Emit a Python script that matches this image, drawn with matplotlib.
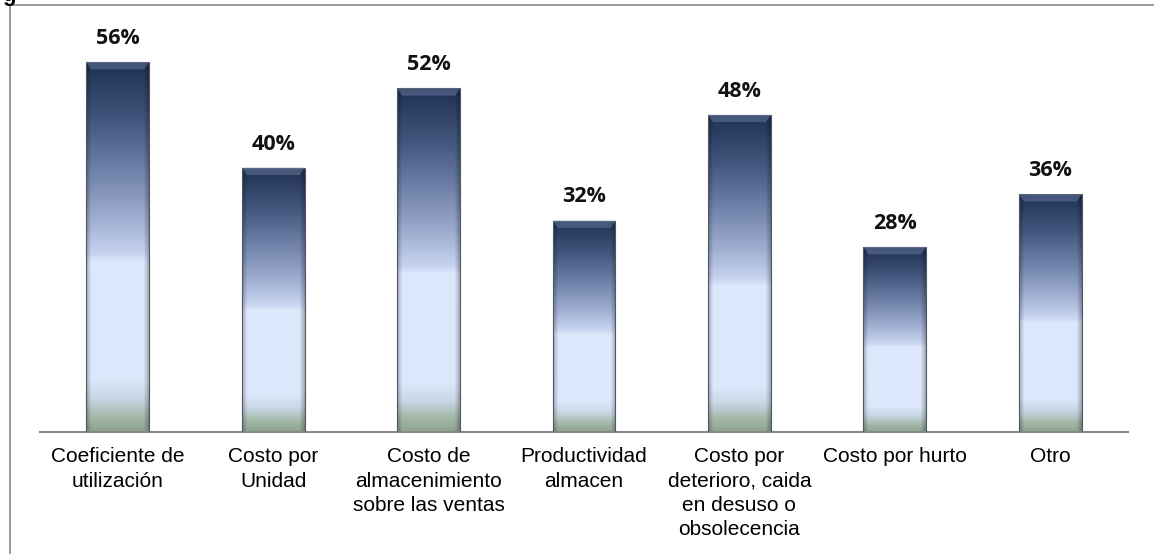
import numpy as np
import matplotlib.pyplot as plt
from matplotlib.colors import LinearSegmentedColormap
from matplotlib.patches import Rectangle, Polygon
from matplotlib.lines import Line2D

categories = [
    "Coeficiente de\nutilización",
    "Costo por\nUnidad",
    "Costo de\nalmacenimiento\nsobre las ventas",
    "Productividad\nalmacen",
    "Costo por\ndeterioro, caida\nen desuso o\nobsolecencia",
    "Costo por hurto",
    "Otro",
]
values = [56, 40, 52, 32, 48, 28, 36]
labels = ["56%", "40%", "52%", "32%", "48%", "28%", "36%"]

W, H = 1154, 554
fig = plt.figure(figsize=(W / 100, H / 100), dpi=100)
fig.patch.set_facecolor("white")

# plot area in pixel terms
x0, x1 = 40, 1128
y_base = 432
px_per_unit = 370 / 56.0
ymax = 60
ax = fig.add_axes([x0 / W, (H - y_base) / H, (x1 - x0) / W,
                   ymax * px_per_unit / H])
ax.set_xlim(0, len(values))
ax.set_ylim(0, ymax)
for s in ["left", "right", "top"]:
    ax.spines[s].set_visible(False)
ax.spines["bottom"].set_color("#8a8a8a")
ax.spines["bottom"].set_linewidth(1.5)
ax.set_yticks([])
ax.tick_params(axis="x", length=0, pad=11)
ax.set_xticks(np.arange(len(values)) + 0.5)
ax.set_xticklabels(categories, fontsize=15, family="Liberation Sans",
                   linespacing=1.36)
ax.patch.set_alpha(0)

# vertical colour ramp, bottom (0) to top (1)
cmap = LinearSegmentedColormap.from_list("barramp", [
    (0.00, "#8ea491"),
    (0.04, "#a3b8a8"),
    (0.09, "#c9d7e6"),
    (0.14, "#dce7fb"),
    (0.46, "#dde8fc"),
    (0.48, "#c8d5f1"),
    (0.58, "#9eadd0"),
    (0.70, "#7284ab"),
    (0.84, "#44577e"),
    (1.00, "#1e3052"),
])
grad = np.linspace(0, 1, 256).reshape(-1, 1)
xs = np.linspace(0, 1, 64)
edge_shade = 1 - 0.25 * np.clip(1 - np.minimum(xs, 1 - xs) / 0.08, 0, 1)

bw = 0.405
for i, v in enumerate(values):
    left = i + 0.5 - bw / 2
    rgb = cmap(np.repeat(grad, 64, axis=1))[..., :3]
    rgb = rgb * edge_shade[None, :, None]
    im = ax.imshow(rgb, extent=(left, left + bw, 0, v), origin="lower",
                   aspect="auto", zorder=2, interpolation="bilinear")
    rect = Rectangle((left, 0), bw, v, facecolor="none",
                     edgecolor="#505866", linewidth=0.8, zorder=3)
    ax.add_patch(rect)
    im.set_clip_path(rect)
    # bevelled top edge
    bx = bw * 0.08
    by = 1.1
    ax.add_patch(Polygon([(left, v), (left + bw, v), (left + bw - bx, v - by),
                          (left + bx, v - by)], closed=True,
                         facecolor="#6a7ca0", edgecolor="none", alpha=0.5,
                         zorder=3))
    ax.text(i + 0.5, v + 2.0, labels[i], ha="center", va="bottom",
            fontsize=15.5, fontweight="bold", family="Open Sans",
            color="#111111", zorder=4)

ax.set_xlim(0, len(values))
ax.set_ylim(0, ymax)

# outer frame (left and top edges)
fig.add_artist(Line2D([10 / W, 10 / W], [0, 1 - 5 / H], color="#8a8a8a",
                      linewidth=1.2, transform=fig.transFigure))
fig.add_artist(Line2D([10 / W, 1], [1 - 5 / H, 1 - 5 / H], color="#8a8a8a",
                      linewidth=1.2, transform=fig.transFigure))
fig.text(2 / W, 1 - 1 / H, "g", fontsize=16, fontweight="bold",
         family="Liberation Sans", va="baseline", ha="left")

fig.savefig("out.png", dpi=100, facecolor="white")
